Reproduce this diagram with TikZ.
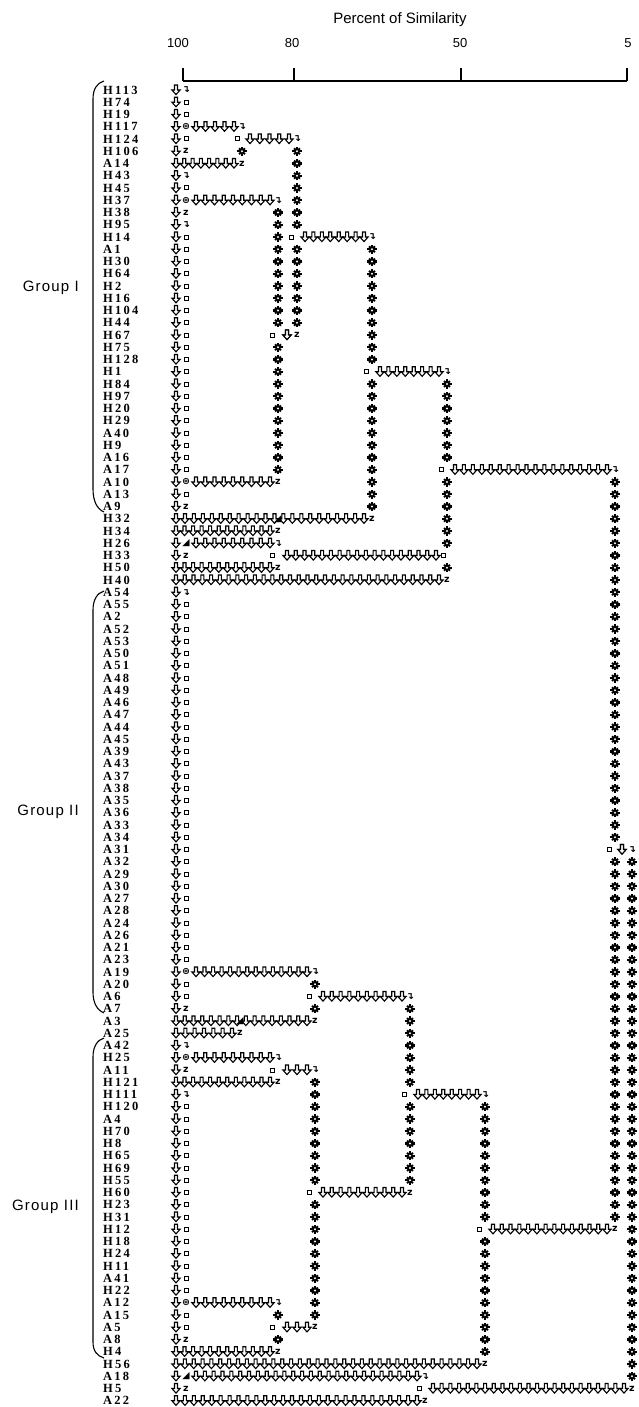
\documentclass[tikz,border=0pt]{standalone}
\usepackage{fontspec}
\setmainfont{Liberation Serif}
\newfontfamily\symb{DejaVu Sans Bold}
\newfontfamily\labf[LetterSpace=18]{Liberation Serif}
\newfontfamily\sanf{Liberation Sans}
\newfontfamily\grpf[LetterSpace=8]{Liberation Sans}

\tikzset{
  gs/.style={inner sep=0pt, font=\symb\fontsize{9.5}{9.5}\selectfont},
  lab/.style={anchor=west, inner sep=0pt, font=\labf\bfseries\fontsize{12.5}{12.5}\selectfont},
  grp/.style={anchor=east, inner sep=0pt, font=\grpf\fontsize{15}{15}\selectfont},
  axl/.style={inner sep=0pt, font=\sanf\fontsize{13}{13}\selectfont},
  brace/.style={line width=1.1pt},
  axis/.style={line width=1.3pt},
  arr/.pic={\draw[line width=1.1pt, fill=white, line join=miter]
      (-1.5,-5) -- (1.5,-5) -- (1.5,0) -- (4.1,0) -- (0,4.6) -- (-4.1,0) -- (-1.5,0) -- cycle;},
  rosette/.pic={\foreach \a in {0,90,180,270} {\draw[line width=2.4pt] (0,0) -- (\a:4.6);}
      \foreach \a in {45,135,225,315} {\draw[line width=2pt] (0,0) -- (\a:4.2);}
      \fill[white] (0,0) circle (1.1);},
  sq/.pic={\draw[line width=1pt, fill=white] (-2,-2) rectangle (2,2);}
}

% glyph at x, row
\newcommand\gly[3]{\node[gs] at (#1,{90+12.25*(#2)}) {#3};}
\newcommand\sqr[2]{\pic at (#1,{90+12.25*(#2)}) {sq};}
% horizontal run of arrows on row #1 from x #2 to x #3
\newcommand\hglyphs[3]{%
  \pgfmathtruncatemacro\hn{max(1,round(((#3)-(#2))/8.8))}%
  \foreach \k in {0,...,\hn}{\pic at ({#2+((#3)-(#2))*\k/\hn},{90+12.25*(#1)}) {arr};}%
}
% vertical run at x #1, rows #2..#3
\newcommand\vglyphs[3]{\foreach \r in {#2,...,#3}{\pic at (#1,{90+12.25*\r}) {rosette};}}

\begin{document}
\begin{tikzpicture}[x=1pt,y=-1pt]
\useasboundingbox (0,0) rectangle (638,1407);

% ---------------- header / axis
\node[inner sep=0pt, font=\sanf\fontsize{15}{15}\selectfont] (title) at (400,20) {Percent of Similarity};
\node[axl] (t100) at (178,43) {100};
\node[axl] (t80) at (292,43) {80};
\node[axl] (t50) at (460,43) {50};
\node[axl] (t5) at (628,43) {5};
\draw[axis] (183,81) -- (627,81);
\foreach \xx in {183,294,461,627} {\draw[axis] (\xx,68) -- (\xx,81);}

% ---------------- labels
\foreach \t [count=\i from 0] in {H113,H74,H19,H117,H124,H106,A14,H43,H45,H37,H38,H95,H14,A1,H30,H64,H2,H16,H104,H44,H67,H75,H128,H1,H84,H97,H20,H29,A40,H9,A16,A17,A10,A13,A9,H32,H34,H26,H33,H50,H40,A54,A55,A2,A52,A53,A50,A51,A48,A49,A46,A47,A44,A45,A39,A43,A37,A38,A35,A36,A33,A34,A31,A32,A29,A30,A27,A28,A24,A26,A21,A23,A19,A20,A6,A7,A3,A25,A42,H25,A11,H121,H111,H120,A4,H70,H8,H65,H69,H55,H60,H23,H31,H12,H18,H24,H11,A41,H22,A12,A15,A5,A8,H4,H56,A18,H5,A22}
  {\node[lab] at (103,{90+12.25*\i}) {\t};}

% ---------------- group labels and braces
\node[grp] (g1) at (79,288) {Group I};
\node[grp] (g2) at (79,812) {Group II};
\node[grp] (g3) at (79,1207) {Group III};
\draw[brace] (104,81) .. controls (97,83) and (93,89) .. (93,99) -- (93,489) .. controls (93,501) and (97,509) .. (104,512);
\draw[brace] (104,591) .. controls (97,593) and (93,600) .. (93,610) -- (93,992) .. controls (93,1003) and (97,1010) .. (104,1013);
\draw[brace] (104,1038) .. controls (97,1040) and (93,1047) .. (93,1057) -- (93,1342) .. controls (93,1351) and (97,1356) .. (104,1358);

% ---------------- leaf stubs (rows not starting a direct run)
\foreach \r in {0,...,5,7,8,...,34,37,38,41,42,...,75,78,79,80,82,83,...,102,105,106} {\pic at (176,{90+12.25*\r}) {arr};}

% ---------------- 100% clusters (column 186)
\gly{186}{0}{↴}
\foreach \r in {1,2,4} {\sqr{186}{\r}}
\gly{186}{3}{⊛}
\gly{186}{5}{z}
\gly{186}{7}{↴}
\sqr{186}{8}
\gly{186}{9}{⊛}
\gly{186}{10}{z}
\gly{186}{11}{↴}
\foreach \r in {12,...,31,33} {\sqr{186}{\r}}
\gly{186}{32}{⊛}
\gly{186}{34}{z}
\gly{186}{37}{◢}
\gly{186}{38}{z}
\gly{186}{41}{↴}
\foreach \r in {42,...,71,73,74} {\sqr{186}{\r}}
\gly{186}{72}{⊛}
\gly{186}{75}{z}
\gly{186}{78}{↴}
\gly{186}{79}{⊛}
\gly{186}{80}{z}
\gly{186}{82}{↴}
\foreach \r in {83,...,98,100,101} {\sqr{186}{\r}}
\gly{186}{99}{⊛}
\gly{186}{102}{z}
\gly{186}{105}{◢}
\gly{186}{106}{z}

% ---------------- Group I tree
\hglyphs{3}{196}{234}\gly{242}{3}{↴}
\sqr{237}{4}\hglyphs{4}{250}{289}\gly{297}{4}{↴}
\vglyphs{242}{5}{5}
\hglyphs{6}{176}{234}\gly{242}{6}{z}
\vglyphs{297}{5}{11}
\vglyphs{297}{13}{19}
\sqr{291}{12}\hglyphs{12}{305}{364}\gly{372}{12}{↴}
\hglyphs{9}{196}{270}\gly{278}{9}{↴}
\vglyphs{278}{10}{19}
\vglyphs{278}{21}{31}
\sqr{272}{20}\hglyphs{20}{287}{287}\gly{297}{20}{z}
\hglyphs{32}{196}{270}\gly{278}{32}{z}
\hglyphs{35}{176}{364}\gly{278}{35}{◢}\gly{372}{35}{z}
\hglyphs{36}{176}{270}\gly{278}{36}{z}
\vglyphs{372}{13}{22}
\vglyphs{372}{24}{34}
\sqr{366}{23}\hglyphs{23}{380}{439}\gly{447}{23}{↴}
\hglyphs{37}{196}{270}\gly{278}{37}{↴}
\sqr{272}{38}\hglyphs{38}{287}{436}\sqr{443}{38}
\hglyphs{39}{176}{270}\gly{278}{39}{z}
\vglyphs{447}{24}{30}
\vglyphs{447}{32}{37}
\vglyphs{447}{39}{39}
\sqr{441}{31}\hglyphs{31}{455}{607}\gly{615}{31}{↴}
\hglyphs{40}{176}{439}\gly{447}{40}{z}
\vglyphs{615}{32}{61}
\vglyphs{615}{63}{92}
\sqr{609}{62}\hglyphs{62}{622}{622}\gly{632}{62}{↴}
\vglyphs{632}{63}{105}

% ---------------- Group II tree
\hglyphs{72}{196}{307}\gly{315}{72}{↴}
\vglyphs{315}{73}{73}
\vglyphs{315}{75}{75}
\sqr{309}{74}\hglyphs{74}{323}{402}\gly{410}{74}{↴}
\hglyphs{76}{176}{307}\gly{240}{76}{◢}\gly{315}{76}{z}
\hglyphs{77}{176}{232}\gly{240}{77}{z}
\vglyphs{410}{75}{81}
\vglyphs{410}{83}{89}
\sqr{404}{82}\hglyphs{82}{418}{477}\gly{485}{82}{↴}
\sqr{309}{90}\hglyphs{90}{323}{402}\gly{410}{90}{z}

% ---------------- Group III tree
\hglyphs{79}{196}{270}\gly{278}{79}{↴}
\sqr{272}{80}\hglyphs{80}{287}{307}\gly{315}{80}{↴}
\hglyphs{81}{176}{270}\gly{278}{81}{z}
\hglyphs{99}{196}{270}\gly{278}{99}{↴}
\vglyphs{278}{100}{100}
\vglyphs{278}{102}{102}
\sqr{272}{101}\hglyphs{101}{287}{307}\gly{315}{101}{z}
\hglyphs{103}{176}{270}\gly{278}{103}{z}
\vglyphs{315}{81}{89}
\vglyphs{315}{91}{100}
\vglyphs{485}{83}{92}
\vglyphs{485}{94}{103}
\sqr{479}{93}\hglyphs{93}{493}{607}\gly{615}{93}{z}
\hglyphs{104}{176}{477}\gly{485}{104}{z}
\hglyphs{105}{196}{417}\gly{425}{105}{↴}
\sqr{419}{106}\hglyphs{106}{433}{624}\gly{632}{106}{z}
\hglyphs{107}{176}{417}\gly{425}{107}{z}
\end{tikzpicture}
\end{document}
